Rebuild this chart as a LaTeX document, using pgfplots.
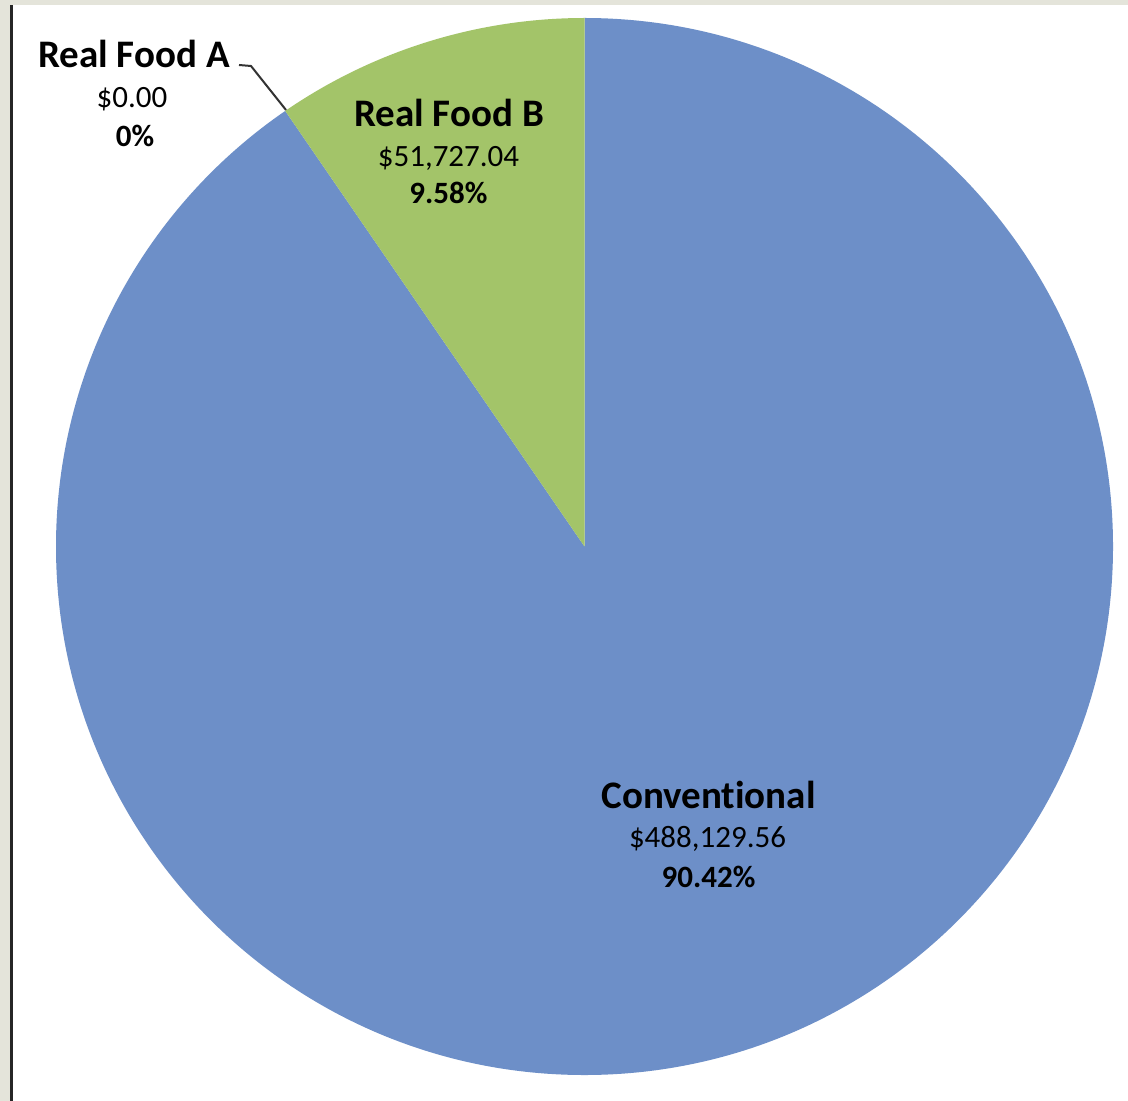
\documentclass[border=0pt]{standalone}
\usepackage{fontspec}
\setmainfont{Carlito}[Ligatures=NoCommon]
\usepackage{pgfplots}
\usepackage{pgfplotstable}
\pgfplotsset{compat=1.18}

\definecolor{convblue}{HTML}{6D8FC8}
\definecolor{foodgreen}{HTML}{A3C469}
\definecolor{slideframe}{HTML}{E4E4DA}

% spending by category (Excel order, clockwise from 12 o'clock)
\pgfplotstableread[col sep=comma]{
label,value
Conventional,488129.56
Real Food A,0.00
Real Food B,51727.04
}\piedata

\newcommand{\namefont}{\bfseries\fontsize{19.5}{22}\selectfont}
\newcommand{\valfont}{\fontsize{15.5}{18}\selectfont}
\newcommand{\pctfont}{\bfseries\fontsize{15.5}{18}\selectfont}

\begin{document}
\begin{tikzpicture}
\pgfplotstablegetelem{0}{value}\of\piedata \let\vconv\pgfplotsretval
\pgfplotstablegetelem{1}{value}\of\piedata \let\va\pgfplotsretval
\pgfplotstablegetelem{2}{value}\of\piedata \let\vb\pgfplotsretval
\edef\total{\fpeval{\vconv+\va+\vb}}
% slice boundaries, going clockwise from the top
\edef\angA{\fpeval{90-360*\vconv/\total}}
\edef\angB{\fpeval{\angA-360*\va/\total}}
\edef\angC{\fpeval{\angB-360*\vb/\total}}
\def\R{264.25pt}

\begin{axis}[
    width=564pt, height=550.5pt, scale only axis,
    hide axis, clip=false,
    xmin=0, xmax=1128, ymin=0, ymax=1101, y dir=reverse,
]
    % slide background
    \fill[slideframe] (axis cs:0,0) rectangle (axis cs:1128,1101);
    \fill[white] (axis cs:12.5,5) rectangle (axis cs:1128,1101);
    \fill[black!85] (axis cs:10,5) rectangle (axis cs:12.5,1101);

    % slices
    \fill[convblue] (axis cs:584.5,546.5) -- ++(90:\R)
        arc[start angle=90, end angle=\angA, radius=\R] -- cycle;
    \fill[foodgreen] (axis cs:584.5,546.5) -- ++(\angB:\R)
        arc[start angle=\angB, end angle=\angC, radius=\R] -- cycle;

    % leader line for the empty slice
    \draw[black!80, line width=1pt]
        (axis cs:239,65) -- (axis cs:251,66) -- (axis cs:286,110);

    % labels
    \node[anchor=base, font=\namefont] at (axis cs:134,68) {Real Food A};
    \node[anchor=base, font=\valfont]  at (axis cs:132,108) {\$0.00};
    \node[anchor=base, font=\pctfont]  at (axis cs:135,147) {0\%};

    \node[anchor=base, font=\namefont] at (axis cs:449,127) {Real Food B};
    \node[anchor=base, font=\valfont]  at (axis cs:448.5,167) {\$51,727.04};
    \node[anchor=base, font=\pctfont]  at (axis cs:448.5,204) {9.58\%};

    \node[anchor=base, font=\namefont] at (axis cs:708.5,808) {Conventional};
    \node[anchor=base, font=\valfont]  at (axis cs:707.5,847) {\$488,129.56};
    \node[anchor=base, font=\pctfont]  at (axis cs:708.5,887) {90.42\%};
\end{axis}
\end{tikzpicture}
\end{document}
